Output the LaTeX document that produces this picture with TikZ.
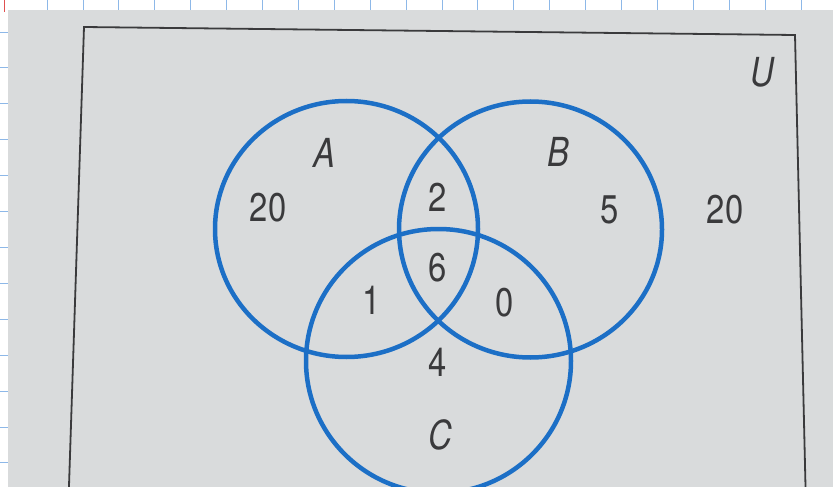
\documentclass[tikz,border=0pt]{standalone}
\usepackage{fontspec}
\setmainfont{TeX Gyre Heros}[FakeStretch=0.82]
\usetikzlibrary{shapes.geometric}
\definecolor{vennblue}{HTML}{1C6FC6}
\definecolor{paper}{HTML}{D9DBDC}
\definecolor{ink}{HTML}{3A3A3C}
\definecolor{gridblue}{HTML}{8DB8E8}
\definecolor{marginred}{HTML}{E05050}
\begin{document}
\begin{tikzpicture}[x=1pt,y=-1pt,
  setshape/.style={draw=vennblue, line width=4.5pt, ellipse, inner sep=0pt, minimum width=263pt, minimum height=256pt},
  lbl/.style={text=ink, inner sep=0pt, font=\fontsize{40}{44}\selectfont},
  setname/.style={lbl, font=\fontsize{40}{44}\selectfont\itshape}]
\useasboundingbox (0,0) rectangle (833,487);
\clip (0,0) rectangle (833,487);
\fill[white] (0,0) rectangle (833,487);
% graph paper
\foreach \i in {0,...,21} \draw[gridblue, line width=0.8pt] (47+35.9*\i,0) -- (47+35.9*\i,10);
\foreach \i in {0,...,12} \draw[gridblue, line width=0.8pt] (0,32+35.9*\i) -- (8,32+35.9*\i);
\draw[marginred, line width=0.8pt] (4,0) -- (4,12);
% page
\fill[paper] (8,10) rectangle (840,495);
% universe frame
\draw[ink, line width=1.8pt] (68.7,495) -- (84,27) -- (795,35) -- (805.7,495);
% sets
\node[setshape] (A) at (346.5,229) {};
\node[setshape] (B) at (530.5,229.5) {};
\node[setshape, minimum width=265pt, minimum height=264pt] (C) at (438.5,361) {};
% labels
\node[setname] (U) at (762,72) {U};
\node[setname] (nA) at (324,153) {A};
\node[setname] (nB) at (558,152) {B};
\node[setname] (nC) at (440,435) {C};
\node[lbl] (a) at (268,208) {20};
\node[lbl] (ab) at (438,197) {2};
\node[lbl] (abc) at (438,268) {6};
\node[lbl] (ac) at (372,300) {1};
\node[lbl] (bc) at (505,303) {0};
\node[lbl] (b) at (610,210) {5};
\node[lbl] (c) at (438,362) {4};
\node[lbl] (out) at (725,210) {20};
\end{tikzpicture}
\end{document}
